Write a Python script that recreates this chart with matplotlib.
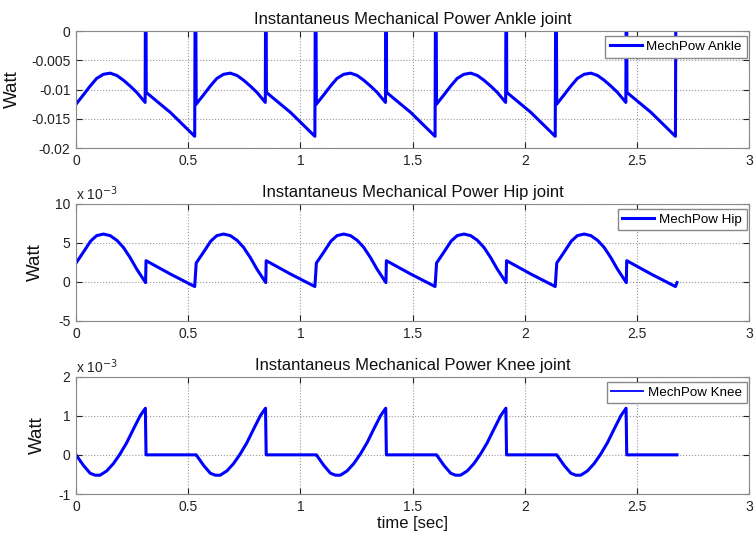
# -*- coding: utf-8 -*-
import numpy as np
import matplotlib
matplotlib.use('Agg')
from matplotlib import pyplot as plt
from matplotlib.ticker import FuncFormatter

# gait strides (start time of each stride, sec)
stride_start = [0.0, 0.5357, 1.0714, 1.6071, 2.1429]
t_end = 2.679

# one stride (time from stride start, Watt)
# spikes of the ankle go past the top of the axis
ankle_t = [0.000, 0.033, 0.063, 0.092, 0.122, 0.152, 0.182, 0.211, 0.241, 0.271,
           0.308, 0.3105, 0.313, 0.420, 0.529, 0.532]
ankle_v = [-0.0125, -0.0109, -0.0094, -0.0081, -0.0074, -0.0072, -0.0076, -0.0084,
           -0.0094, -0.0105, -0.0122, 0.02, -0.0105, -0.0139, -0.0180, 0.02]

hip_t = [0.000, 0.033, 0.065, 0.092, 0.122, 0.152, 0.182, 0.211, 0.241, 0.271,
         0.310, 0.312, 0.420, 0.529]
hip_v = [0.0024, 0.0038, 0.0052, 0.0059, 0.0061, 0.0059, 0.0053, 0.0044, 0.0031,
         0.0016, -0.0001, 0.0027, 0.0010, -0.0006]

knee_t = [0.000, 0.033, 0.063, 0.085, 0.107, 0.137, 0.167, 0.196, 0.226, 0.256,
          0.286, 0.309, 0.312, 0.529]
knee_v = [0.0, -0.00027, -0.00047, -0.00052, -0.00052, -0.00041, -0.00022, 0.00002,
          0.00031, 0.00066, 0.00100, 0.00119, 0.0, 0.0]

# last sample after the final stride
hip_tail = -0.0001
knee_tail = 0.0

plt.rcParams['font.family'] = ['Liberation Sans', 'DejaVu Sans']
plt.rcParams['axes.unicode_minus'] = False

BLUE = '#0000ff'


def build(ct, cv, tail=None):
    t = np.concatenate([np.array(ct) + s for s in stride_start])
    v = np.concatenate([np.array(cv) for s in stride_start])
    if tail is not None:
        t = np.append(t, t_end)
        v = np.append(v, tail)
    return t, v


def style(ax, yticks, title, scale=None):
    ax.set_xlim(0, 3)
    ax.set_xticks(np.arange(0, 3.01, 0.5))
    ax.set_ylim(yticks[0], yticks[-1])
    ax.set_yticks(yticks)
    ax.xaxis.set_major_formatter(FuncFormatter(lambda x, p: '%g' % x))
    if scale:
        ax.yaxis.set_major_formatter(FuncFormatter(lambda y, p: '%g' % round(y / scale, 6)))
        ax.text(0.0, 1.005, r'x 10$^{-3}$', transform=ax.transAxes,
                fontsize=10, color='#222222', va='bottom', ha='left')
    else:
        ax.yaxis.set_major_formatter(FuncFormatter(lambda y, p: '%g' % round(y, 6)))
    ax.grid(True, linestyle=':', color='#999999', linewidth=0.8)
    ax.tick_params(direction='in', length=4, labelsize=10, colors='#222222',
                   top=True, right=True, pad=4)
    for sp in ax.spines.values():
        sp.set_color('#888888')
    ax.set_title(title, fontsize=12, pad=5, color='#111111')
    ax.set_ylabel('Watt', fontsize=13.5, color='#111111')


def render():
    fig = plt.figure(figsize=(7.55, 5.34), dpi=100)
    ax1 = fig.add_axes([0.1007, 0.7228, 0.8914, 0.2191])
    ax2 = fig.add_axes([0.1007, 0.3989, 0.8914, 0.2200])
    ax3 = fig.add_axes([0.1007, 0.0749, 0.8914, 0.2200])

    t, v = build(ankle_t, ankle_v)
    ax1.plot(t, v, color=BLUE, lw=2.2, label='MechPow Ankle')
    style(ax1, [-0.02, -0.015, -0.01, -0.005, 0], 'Instantaneus Mechanical Power Ankle joint')
    ax1.yaxis.set_label_coords(-0.082, 0.5)

    t, v = build(hip_t, hip_v, hip_tail)
    ax2.plot(t, v, color=BLUE, lw=2.2, label='MechPow Hip')
    style(ax2, [-0.005, 0, 0.005, 0.01], 'Instantaneus Mechanical Power Hip joint', 1e-3)
    ax2.yaxis.set_label_coords(-0.048, 0.5)

    t, v = build(knee_t, knee_v, knee_tail)
    ax3.plot(t, v, color=BLUE, lw=2.2, label='MechPow Knee')
    style(ax3, [-0.001, 0, 0.001, 0.002], 'Instantaneus Mechanical Power Knee joint', 1e-3)
    ax3.yaxis.set_label_coords(-0.044, 0.5)
    ax3.set_xlabel('time [sec]', fontsize=12, color='#111111', labelpad=2)

    for ax in [ax1, ax2, ax3]:
        leg = ax.legend(loc='upper right', bbox_to_anchor=(1 - 2.5 / 673, 1 - 5 / 117),
                        fontsize=9.6, handlelength=2.4, fancybox=False,
                        framealpha=1, borderaxespad=0, borderpad=0.35,
                        handletextpad=0.35)
        leg.get_frame().set_edgecolor('#888888')
        leg.get_frame().set_linewidth(1.0)
    ax3.get_legend().get_lines()[0].set_linewidth(1.3)

    fig.savefig('out.png', dpi=100)


if __name__ == "__main__":
    render()
